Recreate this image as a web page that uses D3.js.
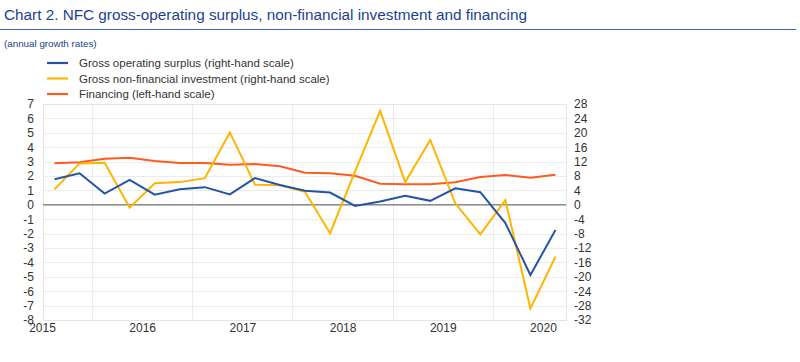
<!DOCTYPE html>
<html><head><meta charset="utf-8">
<script src="https://cdn.jsdelivr.net/npm/d3@7"></script>
<style>body{margin:0;background:#fff;}svg{display:block;font-family:"Liberation Sans",Arial,sans-serif;}</style>
</head><body>
<svg id="c" width="800" height="362"></svg>
<script>
const quarters = ["2015Q1","2015Q2","2015Q3","2015Q4","2016Q1","2016Q2","2016Q3","2016Q4","2017Q1","2017Q2","2017Q3","2017Q4","2018Q1","2018Q2","2018Q3","2018Q4","2019Q1","2019Q2","2019Q3","2019Q4","2020Q1"];
const grossOperatingSurplus = [7.1,8.75,3.1,6.9,2.8,4.3,4.9,2.9,7.4,5.5,3.9,3.4,-0.3,0.9,2.5,1.1,4.6,3.5,-5.1,-19.5,-7.0];
const grossInvestment = [4.3,11.5,11.7,-0.8,6.0,6.3,7.4,20.1,5.6,5.4,3.6,-7.9,9.3,26.1,6.3,18.0,0.4,-8.2,1.3,-28.8,-14.4];
const financing = [2.88,2.95,3.2,3.27,3.04,2.9,2.9,2.78,2.83,2.67,2.23,2.19,2.02,1.47,1.42,1.42,1.56,1.93,2.07,1.88,2.09];
const years = [2015,2016,2017,2018,2019,2020];
const leftTicks = d3.range(-8,8,1);
const rightTicks = d3.range(-32,29,4);
const seriesNames = ["Gross operating surplus (right-hand scale)","Gross non-financial investment (right-hand scale)","Financing (left-hand scale)"];
const colors = ["#2455a4","#ffb400","#ff5a1f"];

const svg = d3.select("#c");
const L=43, R=566, T=104, B=320;
const toT = q => +q.slice(0,4) + (+q.slice(5)-1)/4 + 0.125;
const x = d3.scaleLinear().domain([2015, 2020.23]).range([L-1, R]);
const yL = d3.scaleLinear().domain([-8,7]).range([B,T]);
const yR = d3.scaleLinear().domain([-32,28]).range([B,T]);
const fmt = d => String(d);

// title
svg.append("text").attr("x",4).attr("y",20).attr("font-size",15.3).attr("fill","#1c3f95").text("Chart 2. NFC gross-operating surplus, non-financial investment and financing");
svg.append("line").attr("x1",0).attr("x2",796).attr("y1",29.5).attr("y2",29.5).attr("stroke","#3b66c4").attr("stroke-width",1.2);
svg.append("text").attr("x",4).attr("y",47).attr("font-size",9.8).attr("fill","#1c3f95").text("(annual growth rates)");

// grid
const g = svg.append("g");
g.selectAll(".hg").data(leftTicks).join("line").attr("x1",L).attr("x2",R).attr("y1",d=>Math.round(yL(d))+0.5).attr("y2",d=>Math.round(yL(d))+0.5).attr("stroke","#ececec");
g.selectAll(".vg").data(years.slice(0,5)).join("line").attr("x1",d=>Math.round(x(d+0.5))+0.5).attr("x2",d=>Math.round(x(d+0.5))+0.5).attr("y1",T).attr("y2",B).attr("stroke","#ececec");
g.append("rect").attr("x",L+0.5).attr("y",T+0.5).attr("width",R-L).attr("height",B-T).attr("fill","none").attr("stroke","#e4e4e4");
g.append("line").attr("x1",L).attr("x2",R).attr("y1",yL(0)).attr("y2",yL(0)).attr("stroke","#8c8c8c").attr("stroke-width",1.5);

// axes labels
const axL = d3.axisLeft(yL).tickValues(leftTicks).tickSize(0).tickPadding(0).tickFormat(fmt);
const gl = svg.append("g").attr("transform",`translate(${L-9},0)`).call(axL);
gl.select(".domain").remove();
gl.selectAll("text").attr("font-size",12).attr("fill","#333").attr("font-family","Liberation Sans, Arial, sans-serif");
const axR = d3.axisRight(yR).tickValues(rightTicks).tickSize(0).tickPadding(0).tickFormat(fmt);
const gr = svg.append("g").attr("transform",`translate(${R+8},0)`).call(axR);
gr.select(".domain").remove();
gr.selectAll("text").attr("font-size",12).attr("fill","#333").attr("font-family","Liberation Sans, Arial, sans-serif");
const axX = d3.axisBottom(x).tickValues(years).tickSize(0).tickPadding(0).tickFormat(fmt);
const gx = svg.append("g").attr("transform",`translate(0,${B+3})`).call(axX);
gx.select(".domain").remove();
gx.selectAll("text").attr("font-size",12).attr("fill","#333").attr("font-family","Liberation Sans, Arial, sans-serif");

// lines
const mk = (vals, ys) => d3.line().x((d,i)=>x(toT(quarters[i]))).y(d=>ys(d))(vals);
svg.append("path").attr("d",mk(financing,yL)).attr("fill","none").attr("stroke",colors[2]).attr("stroke-width",2);
svg.append("path").attr("d",mk(grossInvestment,yR)).attr("fill","none").attr("stroke",colors[1]).attr("stroke-width",2);
svg.append("path").attr("d",mk(grossOperatingSurplus,yR)).attr("fill","none").attr("stroke",colors[0]).attr("stroke-width",2);

// legend
const lg = svg.append("g");
seriesNames.forEach((n,i)=>{
  const yy = 63 + i*15.5;
  lg.append("line").attr("x1",47).attr("x2",68).attr("y1",yy).attr("y2",yy).attr("stroke",colors[i]).attr("stroke-width",2.2);
  lg.append("text").attr("x",79).attr("y",yy+4).attr("font-size",11.5).attr("fill","#333").text(n);
});
</script>
</body></html>
